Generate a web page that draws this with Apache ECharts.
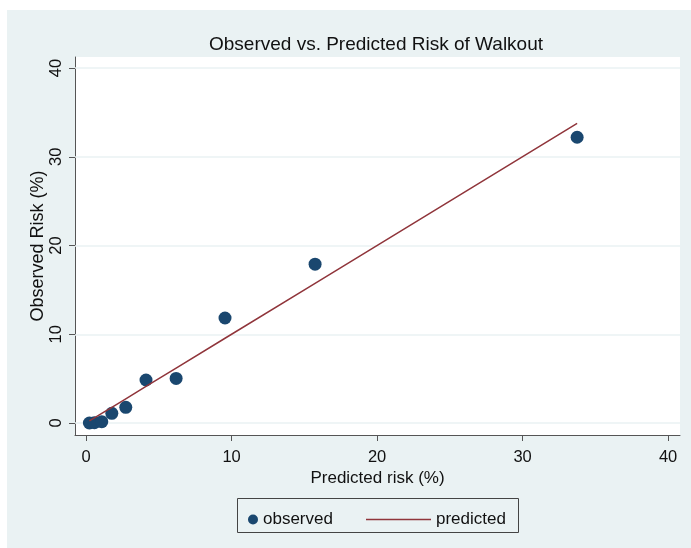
<!DOCTYPE html>
<html><head><meta charset="utf-8">
<script src="https://cdn.jsdelivr.net/npm/echarts@6/dist/echarts.min.js"></script>
<style>html,body{margin:0;padding:0;background:#fff}#c{width:691px;height:548px}</style>
</head><body><div id="c"></div>
<script>
var predicted = [0.23, 0.57, 1.08, 1.77, 2.73, 4.12, 6.19, 9.55, 15.74, 33.75];
var observed  = [0.00, 0.03, 0.15, 1.09, 1.77, 4.85, 5.03, 11.83, 17.9, 32.2];
var xTicks = [0, 10, 20, 30, 40];
var yTicks = [0, 10, 20, 30, 40];

var obsPts = predicted.map(function(p, i){ return [p, observed[i]]; });
var predPts = predicted.map(function(p){ return [p, p]; });

var font = 'Liberation Sans, Arial, sans-serif';
var chart = echarts.init(document.getElementById('c'));
chart.setOption({
  animation: false,
  backgroundColor: '#ffffff',
  graphic: [
    {type:'rect', z:-10, shape:{x:7, y:10, width:684, height:538}, style:{fill:'#eaf2f3'}},
    {type:'rect', z:100, shape:{x:237.5, y:498.5, width:281, height:34}, style:{fill:'rgba(0,0,0,0)', stroke:'#444', lineWidth:1}}
  ],
  title: {
    text: 'Observed vs. Predicted Risk of Walkout',
    left: 371, top: 30, textAlign: 'center',
    textStyle: {fontFamily: font, fontSize: 19, fontWeight: 'normal', color: '#111'}
  },
  grid: {left: 75, right: 11, top: 57, bottom: 113, show: true, backgroundColor: '#fff', borderWidth: 0},
  xAxis: {
    type: 'value', min: -0.76, max: 40.82,
    name: 'Predicted risk (%)', nameLocation: 'middle', nameGap: 35, nameMoveOverlap: false,
    nameTextStyle: {fontFamily: font, fontSize: 17, color: '#111'},
    axisLine: {show: true, onZero: false, lineStyle: {color: '#555', width: 1}},
    axisTick: {show: true, length: 6, customValues: xTicks, lineStyle: {color: '#555'}},
    axisLabel: {customValues: xTicks, fontFamily: font, fontSize: 16.5, color: '#111', margin: 14},
    splitLine: {show: false}
  },
  yAxis: {
    type: 'value', min: -1.35, max: 41.24,
    name: 'Observed Risk (%)', nameLocation: 'middle', nameGap: 28, nameRotate: 90, nameMoveOverlap: false,
    nameTextStyle: {fontFamily: font, fontSize: 18, color: '#111'},
    axisLine: {show: true, onZero: false, lineStyle: {color: '#555', width: 1}},
    axisTick: {show: true, length: 6, customValues: yTicks, lineStyle: {color: '#555'}},
    axisLabel: {customValues: yTicks, rotate: 90, fontFamily: font, fontSize: 16.5, color: '#111', margin: 10},
    splitLine: {show: false}
  },
  legend: [
    {data: [{name: 'observed', icon: 'circle'}], left: 243, top: 506, itemWidth: 10, itemHeight: 10, itemGap: 8,
     textStyle: {fontFamily: font, fontSize: 17, color: '#111'}},
    {data: [{name: 'predicted', icon: 'rect'}], left: 361, top: 506, itemWidth: 65, itemHeight: 1.5, itemGap: 10,
     textStyle: {fontFamily: font, fontSize: 17, color: '#111'}}
  ],
  series: [
    {
      name: 'grid', type: 'line', data: [], silent: true, z: 1,
      markLine: {
        silent: true, symbol: 'none', label: {show: false}, z: 1,
        lineStyle: {color: '#eaf2f3', width: 1.5, type: 'solid'},
        data: yTicks.map(function(v){ return {yAxis: v}; })
      }
    },
    {
      name: 'observed', type: 'scatter', data: obsPts, symbolSize: 13,
      itemStyle: {color: '#1a476f', opacity: 1}, z: 3
    },
    {
      name: 'predicted', type: 'line', data: predPts, showSymbol: false, symbol: 'none',
      lineStyle: {color: '#90353b', width: 1.5}, itemStyle: {color: '#90353b'}, z: 4
    }
  ]
});
</script></body></html>
